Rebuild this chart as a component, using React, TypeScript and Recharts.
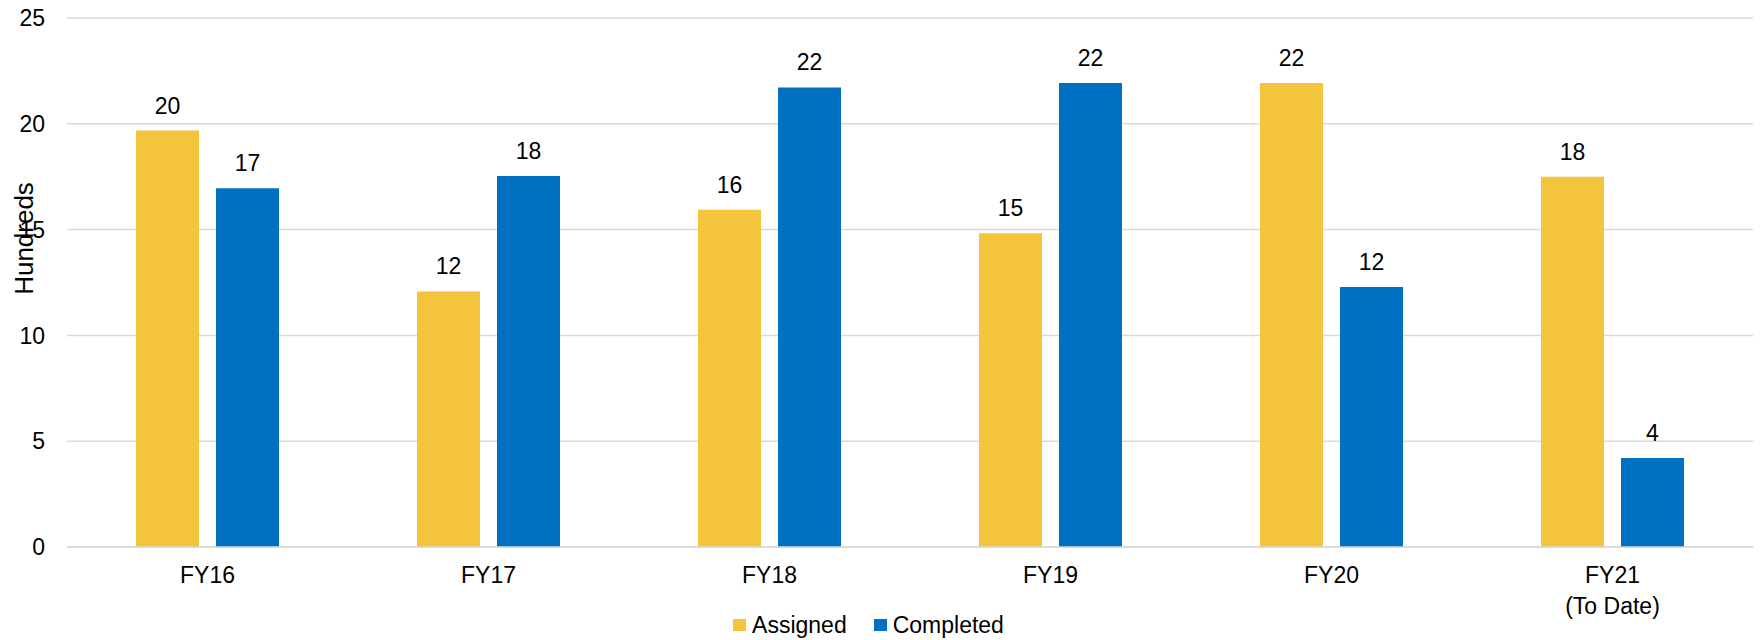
import { BarChart, Bar, XAxis, YAxis, CartesianGrid, Legend, LabelList } from "recharts"

const years = ["FY16", "FY17", "FY18", "FY19", "FY20", "FY21\n(To Date)"]
const assigned = [19.68, 12.08, 15.94, 14.83, 21.93, 17.5]
const completed = [16.95, 17.53, 21.72, 21.93, 12.29, 4.21]
const yTicks = [0, 5, 10, 15, 20, 25]

const data = years.map((year, i) => ({
  year,
  assigned: assigned[i],
  completed: completed[i],
}))

const FONT = '"Liberation Sans", Arial, sans-serif'
const YELLOW = "#F4C43D"
const BLUE = "#0070C0"
const FS = 23

const YearTick = (props: any) => {
  const { x, y, payload } = props
  const lines = String(payload.value).split("\n")
  return (
    <text x={x} y={y} textAnchor="middle" fill="#000" fontSize={FS} fontFamily={FONT}>
      {lines.map((line, i) => (
        <tspan key={i} x={x} dy={i === 0 ? 36 : 31.4}>
          {line}
        </tspan>
      ))}
    </text>
  )
}

const HundredsLabel = (props: any) => {
  const vb = props.viewBox || { y: 18, height: 529 }
  const cy = vb.y + vb.height / 2 - 44
  return (
    <text
      x={33}
      y={cy}
      transform={`rotate(-90 33 ${cy})`}
      textAnchor="middle"
      fill="#000"
      fontSize={26}
      fontFamily={FONT}
    >
      Hundreds
    </text>
  )
}

const LegendBox = (props: any) => {
  const items = props.payload || []
  return (
    <div
      style={{
        height: 30,
        display: "flex",
        justifyContent: "center",
        alignItems: "center",
        paddingRight: 16,
        fontFamily: FONT,
        fontSize: FS,
        color: "#000",
      }}
    >
      {items.map((item: any, i: number) => (
        <div key={i} style={{ display: "flex", alignItems: "center", marginLeft: i === 0 ? 0 : 27 }}>
          <span style={{ width: 13, height: 12, background: item.color, marginRight: 6, display: "inline-block" }} />
          <span>{item.value}</span>
        </div>
      ))}
    </div>
  )
}

export default function App() {
  return (
    <div style={{ position: "absolute", left: 0, top: 0, width: 1760, height: 640, background: "#fff" }}>
      <BarChart
        width={1760}
        height={640}
        data={data}
        margin={{ top: 18, right: 7, bottom: 0, left: 0 }}
        barGap={17}
        barSize={63}
      >
        <CartesianGrid vertical={false} stroke="#D9D9D9" strokeWidth={1.5} />
        <XAxis
          dataKey="year"
          height={63}
          interval={0}
          tickLine={false}
          tickSize={0}
          tickMargin={0}
          axisLine={{ stroke: "#D9D9D9", strokeWidth: 1.5 }}
          tick={<YearTick />}
        />
        <YAxis
          width={67}
          domain={[0, 25]}
          ticks={yTicks}
          axisLine={false}
          tickLine={false}
          tickSize={0}
          tickMargin={22}
          tick={{ fill: "#000", fontSize: FS, fontFamily: FONT }}
          label={<HundredsLabel />}
        />
        <Legend verticalAlign="bottom" height={30} content={<LegendBox />} />
        <Bar dataKey="assigned" name="Assigned" fill={YELLOW} isAnimationActive={false}>
          <LabelList
            dataKey="assigned"
            position="top"
            offset={17}
            formatter={(v: any) => Math.round(Number(v))}
            style={{ fill: "#000", fontSize: FS, fontFamily: FONT }}
          />
        </Bar>
        <Bar dataKey="completed" name="Completed" fill={BLUE} isAnimationActive={false}>
          <LabelList
            dataKey="completed"
            position="top"
            offset={17}
            formatter={(v: any) => Math.round(Number(v))}
            style={{ fill: "#000", fontSize: FS, fontFamily: FONT }}
          />
        </Bar>
      </BarChart>
    </div>
  )
}
